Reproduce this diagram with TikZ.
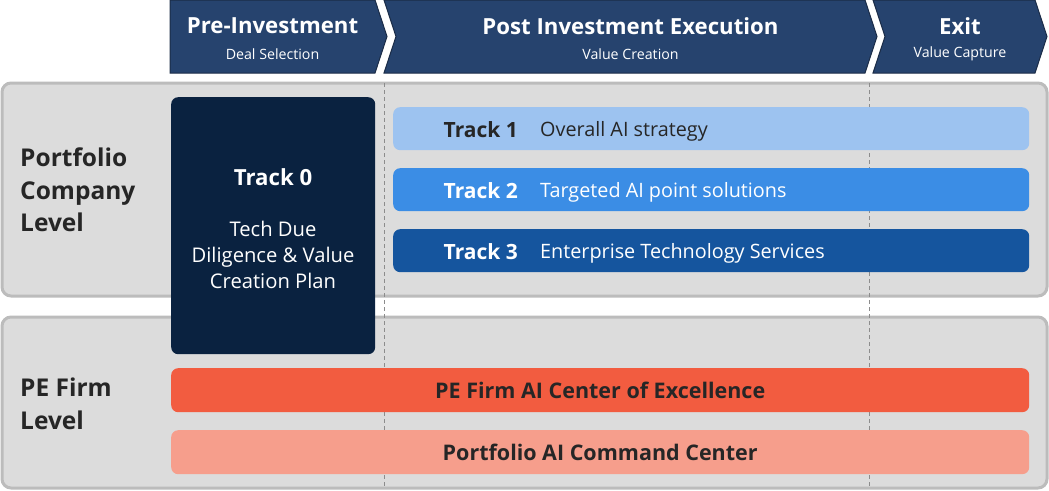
\documentclass[tikz,border=0pt]{standalone}
\usepackage{fontspec}
\setmainfont{Open Sans}
\usetikzlibrary{positioning}
\definecolor{phase}{HTML}{26436E}
\definecolor{phaseline}{HTML}{1B2C47}
\definecolor{panelfill}{HTML}{DCDCDC}
\definecolor{panelline}{HTML}{BCBCBC}
\definecolor{guide}{HTML}{8C8C8C}
\definecolor{trackzero}{HTML}{0A2240}
\definecolor{trackone}{HTML}{9DC3F0}
\definecolor{tracktwo}{HTML}{3B8DE5}
\definecolor{trackthree}{HTML}{15559E}
\definecolor{coe}{HTML}{F25C40}
\definecolor{cmd}{HTML}{F69E8C}
\definecolor{ink}{HTML}{262626}
\tikzset{
    panel/.style={fill=panelfill, draw=panelline, line width=3pt, rounded corners=9pt},
    guideline/.style={draw=guide, line width=1pt, dash pattern=on 4pt off 3pt},
    phasebox/.style={fill=phase, draw=phaseline, line width=1pt},
    phasetitle/.style={text=white, font=\fontsize{22.2}{26}\selectfont\bfseries},
    phasesub/.style={text=white, font=\fontsize{14.2}{16}\selectfont},
    bar/.style={rounded corners=7pt, inner sep=0pt, anchor=north west},
    tracklabel/.style={font=\fontsize{21}{26}\selectfont\bfseries, anchor=base east, inner sep=0pt},
    trackdesc/.style={font=\fontsize{19.8}{24}\selectfont, anchor=base west, inner sep=0pt},
    level/.style={text=ink, align=left, anchor=west, inner sep=0pt,
        font=\fontsize{24.5}{32.5}\selectfont\bfseries},
    bartext/.style={text=ink, font=\fontsize{21.5}{24}\selectfont\bfseries}
}
\begin{document}
\begin{tikzpicture}[x=1pt, y=-1pt]
\useasboundingbox (0,0) rectangle (1049,490);
% level panels
\draw[panel] (2,83) rectangle (1047,296);
\draw[panel] (2,317) rectangle (1047,488);
\foreach\x in{384, 869}{
    \draw[guideline] (\x,83) -- (\x,488);
}
% phases
\foreach\n/\xa/\xb/\nt/\ttl/\sub in{1/170/375/0/Pre-Investment/Deal Selection,
    2/384/865/12/Post Investment Execution/Value Creation,
    3/873/1035/12/Exit/Value Capture}{
    \draw[phasebox] (\xa,0) -- (\xb,0) -- (\xb+12,36.5) -- (\xb,73)
        -- (\xa,73) -- (\xa+\nt,36.5) -- cycle;
    \node[phasetitle] (P\n) at ({(\xa+\xb+\nt)/2}, 26) {\ttl};
    \node[phasesub] (S\n) at ({(\xa+\xb+\nt)/2}, 54) {\sub};
}
\node[level] (LV1) at (20,190) {Portfolio\\Company\\Level};
\node[level] (LV2) at (20,404) {PE Firm\\Level};
% track 0
\node[bar, fill=trackzero, minimum width=204pt, minimum height=257pt] (T0) at (171,97) {};
\node[phasetitle] (T0h) at (273,177) {Track 0};
\node[text=white, align=center, font=\fontsize{20.2}{26}\selectfont] (T0d) at (273,255)
    {Tech Due\\Diligence \& Value\\Creation Plan};
\foreach\i/\y/\col/\txt/\desc in{1/107/trackone/ink/Overall AI strategy,
    2/168/tracktwo/white/Targeted AI point solutions,
    3/229/trackthree/white/Enterprise Technology Services}{
    \node[bar, fill=\col, minimum width=636pt, minimum height=43pt] (T\i) at (393,\y) {};
    \node[tracklabel, text=\txt] (L\i) at (518,\y+30) {Track \i};
    \node[trackdesc, text=\txt] (D\i) at (540,\y+29.5) {\desc};
}
% firm level
\node[bar, fill=coe, minimum width=858pt, minimum height=44pt] (C1) at (171,368) {};
\node[bartext] (C1t) at (C1.center) {PE Firm AI Center of Excellence};
\node[bar, fill=cmd, minimum width=858pt, minimum height=44pt] (C2) at (171,430) {};
\node[bartext] (C2t) at (C2.center) {Portfolio AI Command Center};
\end{tikzpicture}
\end{document}
